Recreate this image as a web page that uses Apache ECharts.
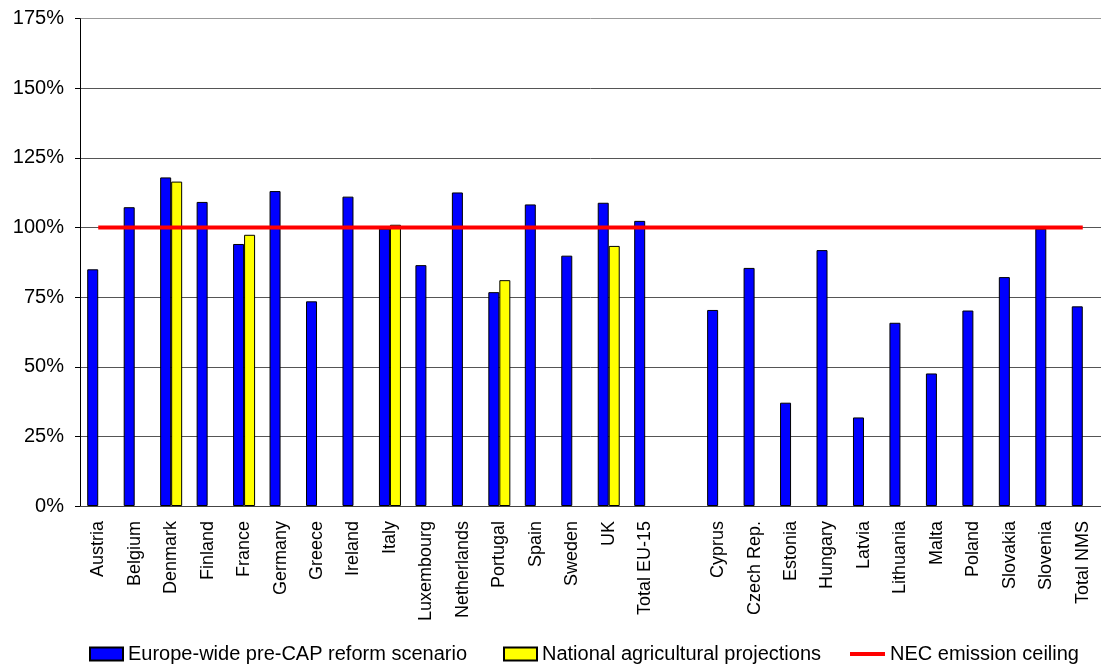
<!DOCTYPE html>
<html>
<head>
<meta charset="utf-8">
<script src="https://cdn.jsdelivr.net/npm/echarts@6/dist/echarts.min.js"></script>
<style>
html,body{margin:0;padding:0;background:#fff;}
#chart{width:1101px;height:669px;}
</style>
</head>
<body>
<div id="chart"></div>
<script>
var categories = ['Austria','Belgium','Denmark','Finland','France','Germany','Greece','Ireland','Italy','Luxembourg','Netherlands','Portugal','Spain','Sweden','UK','Total EU-15','','Cyprus','Czech Rep.','Estonia','Hungary','Latvia','Lithuania','Malta','Poland','Slovakia','Slovenia','Total NMS'];
var europeWide = [85.0,107.3,118.0,109.2,94.1,113.1,73.5,111.1,99.6,86.5,112.6,76.8,108.3,89.9,108.9,102.4,null,70.4,85.5,37.1,91.9,31.8,65.8,47.6,70.2,82.2,99.6,71.7];
var national = [null,null,116.5,null,97.4,null,null,null,101.0,null,null,81.1,null,null,93.4,null,null,null,null,null,null,null,null,null,null,null,null,null];
var necCeiling = [100,100,100,100,100,100,100,100,100,100,100,100,100,100,100,100,100,100,100,100,100,100,100,100,100,100,100,100];
var yTicks = [0,25,50,75,100,125,150,175];
var seriesNames = ['Europe-wide pre-CAP reform scenario','National agricultural projections','NEC emission ceiling'];

var chart = echarts.init(document.getElementById('chart'));
var font = 'Liberation Sans, Arial, sans-serif';
var legendText = {fontFamily: font, fontSize: 20, color: '#000'};
chart.setOption({
  animation: false,
  textStyle: {fontFamily: font},
  grid: {left: 80, right: -2, top: 18.7, bottom: 163, containLabel: false},
  legend: [
    {left: 89, top: 644, padding: 0, itemWidth: 33, itemHeight: 13, textStyle: legendText,
     data: [{name: seriesNames[0], icon: 'rect'}]},
    {left: 503, top: 644, padding: 0, itemWidth: 33, itemHeight: 13, textStyle: legendText,
     data: [{name: seriesNames[1], icon: 'rect'}]},
    {left: 850, top: 644, padding: 0, itemWidth: 35, itemHeight: 4, textStyle: legendText,
     data: [{name: seriesNames[2], icon: 'rect', itemStyle: {color: '#FF0000', borderWidth: 0}}]}
  ],
  xAxis: {
    type: 'category',
    data: categories,
    boundaryGap: true,
    axisLine: {lineStyle: {color: '#444', width: 1}},
    axisTick: {show: false},
    axisLabel: {rotate: 90, interval: 0, margin: 15, fontSize: 18, color: '#000', fontFamily: font}
  },
  yAxis: {
    type: 'value',
    min: yTicks[0], max: yTicks[yTicks.length-1], interval: 25,
    axisLine: {show: true, lineStyle: {color: '#000', width: 1}},
    axisTick: {show: true, length: 5, lineStyle: {color: '#000'}},
    axisLabel: {formatter: '{value}%', fontSize: 20, color: '#000', margin: 16, fontFamily: font},
    splitLine: {show: true, lineStyle: {color: ['#555','#555','#555','#555','#555','#555','#555','#999'], width: 1}}
  },
  series: [
    {
      name: seriesNames[0],
      type: 'bar',
      data: europeWide,
      barWidth: 11,
      barGap: '0%',
      itemStyle: {color: '#0000FF', borderColor: '#000', borderWidth: 1}
    },
    {
      name: seriesNames[1],
      type: 'bar',
      data: national,
      barWidth: 11,
      barGap: '0%',
      itemStyle: {color: '#FFFF00', borderColor: '#000', borderWidth: 1}
    },
    {
      name: seriesNames[2],
      type: 'line',
      data: necCeiling,
      symbol: 'none',
      showSymbol: false,
      lineStyle: {color: '#FF0000', width: 4},
      itemStyle: {color: '#FF0000'},
      z: 5
    }
  ]
});
</script>
</body>
</html>
